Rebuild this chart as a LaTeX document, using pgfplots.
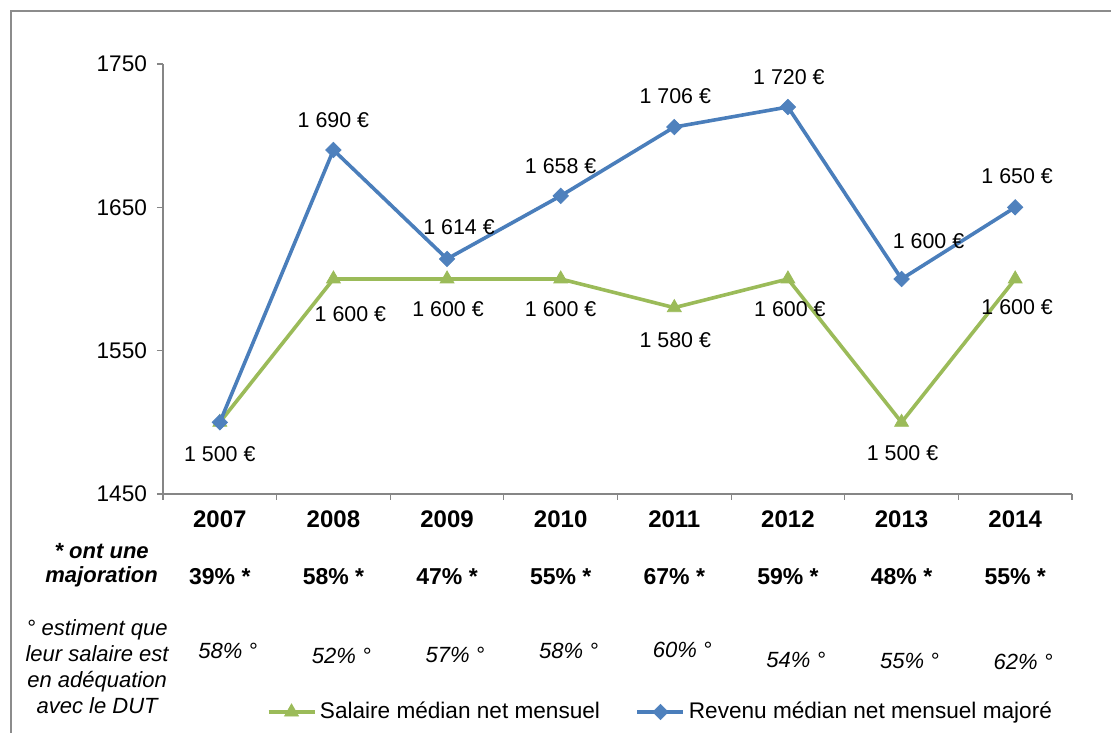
\documentclass[border=0pt]{standalone}
\usepackage{fontspec}
\setmainfont{Liberation Sans}
\usepackage{pgfplots}
\pgfplotsset{compat=1.18}
\definecolor{bleu}{HTML}{4A7EBB}
\definecolor{bleumk}{HTML}{4F81BD}
\definecolor{vert}{HTML}{9BBB59}
\definecolor{axe}{HTML}{868686}
\definecolor{cadre}{HTML}{8C8C8C}
\newcommand{\lab}{\fontsize{10.7}{12}\selectfont}
\tikzset{maj/.style={font=\bfseries\fontsize{11.5}{13}\selectfont, inner sep=0pt},
         adq/.style={font=\itshape\fontsize{11}{13}\selectfont, inner sep=0pt}}
\begin{document}
\begin{tikzpicture}
\begin{axis}[
  scale only axis, width=454.5pt, height=215pt,
  xmin=-0.5, xmax=7.5, ymin=1450, ymax=1750,
  axis lines=left, axis line style={-, draw=axe, line width=0.6pt},
  ytick={1450,1550,1650,1750},
  xtick={-0.5,0.5,...,7.5}, xticklabels={},
  tick align=outside, major tick length=3pt,
  tick style={draw=axe, line width=0.6pt},
  /pgf/number format/1000 sep={},
  /pgf/number format/assume math mode=true,
  yticklabel style={font=\fontsize{11.3}{13}\selectfont, xshift=-1.5pt},
  extra x ticks={0,1,2,3,4,5,6,7},
  extra x tick labels={2007,2008,2009,2010,2011,2012,2013,2014},
  extra x tick style={major tick length=0pt, tick label style={font=\bfseries\fontsize{12}{14}\selectfont, yshift=-5pt}},
  clip=false,
  legend columns=2,
  legend style={at={(0.548,-0.507)}, anchor=center, draw=none, fill=none,
    font=\fontsize{11.3}{13}\selectfont, inner sep=0pt,
    nodes={inner xsep=1.8pt},
    /tikz/every even column/.append style={column sep=16pt},
    cells={anchor=west}},
  legend image code/.code={\draw[mark repeat=2,mark phase=2] plot coordinates {(0pt,0pt) (11.5pt,0pt) (23pt,0pt)};},
]
% Salaire median net mensuel
\addplot[vert, line width=1.8pt, mark=triangle*, mark size=4pt, mark options={fill=vert, draw=vert, line width=0.4pt}]
  table[x=x, y=y] {
x y
0 1500
1 1600
2 1600
3 1600
4 1580
5 1600
6 1500
7 1600
};
\addlegendentry{Salaire médian net mensuel}
% Revenu median net mensuel majore
\addplot[bleu, line width=1.8pt, mark=square*, mark size=2.7pt, mark options={rotate=45, fill=bleumk, draw=bleumk, line width=0.4pt}]
  table[x=x, y=y] {
x y
0 1500
1 1690
2 1614
3 1658
4 1706
5 1720
6 1600
7 1650
};
\addlegendentry{Revenu médian net mensuel majoré}
% data labels, green
\addplot[draw=none, mark=none, forget plot,
  nodes near coords={\pgfmathprintnumber[1000 sep={\ },assume math mode=true]{\pgfplotspointmeta}\ €},
  visualization depends on={\thisrow{dx} \as \dx},
  visualization depends on={\thisrow{dy} \as \dy},
  every node near coord/.append style={anchor=center, text=black, font=\lab, inner sep=0pt, xshift=\dx pt, yshift=\dy pt}]
  table[x=x, y=y] {
x y dx dy
0 1500 0 -16
1 1600 8.5 -17.5
2 1600 0.5 -15
3 1600 0 -15
4 1580 0.5 -16
5 1600 1 -15
6 1500 0.5 -15.5
7 1600 1 -14
};
% data labels, blue
\addplot[draw=none, mark=none, forget plot,
  nodes near coords={\pgfmathprintnumber[1000 sep={\ },assume math mode=true]{\pgfplotspointmeta}\ €},
  visualization depends on={\thisrow{dx} \as \dx},
  visualization depends on={\thisrow{dy} \as \dy},
  every node near coord/.append style={anchor=center, text=black, font=\lab, inner sep=0pt, xshift=\dx pt, yshift=\dy pt}]
  table[x=x, y=y] {
x y dx dy
1 1690 0 15
2 1614 6 16
3 1658 0 15
4 1706 0.5 15.5
5 1720 0.5 15
6 1600 13.5 19
7 1650 1 15.5
};
% row labels
\node[align=center, font=\bfseries\itshape\fontsize{11}{12}\selectfont, inner sep=0pt] at ([yshift=-35.5pt]axis cs:-1.04,1450) {* ont une\\majoration};
\node[align=center, font=\itshape\fontsize{11}{13}\selectfont, inner sep=0pt] at ([yshift=-86.5pt]axis cs:-1.08,1450) {° estiment que\\leur salaire est\\en adéquation\\avec le DUT};
% majoration row
\node[maj] at ([yshift=-41.5pt]axis cs:0,1450) {39\% *};
\node[maj] at ([yshift=-41.5pt]axis cs:1,1450) {58\% *};
\node[maj] at ([yshift=-41.5pt]axis cs:2,1450) {47\% *};
\node[maj] at ([yshift=-41.5pt]axis cs:3,1450) {55\% *};
\node[maj] at ([yshift=-41.5pt]axis cs:4,1450) {67\% *};
\node[maj] at ([yshift=-41.5pt]axis cs:5,1450) {59\% *};
\node[maj] at ([yshift=-41.5pt]axis cs:6,1450) {48\% *};
\node[maj] at ([yshift=-41.5pt]axis cs:7,1450) {55\% *};
% adequation row
\node[adq] at ([xshift=4pt, yshift=-78.5pt]axis cs:0,1450) {58\% °};
\node[adq] at ([xshift=4pt, yshift=-81pt]axis cs:1,1450) {52\% °};
\node[adq] at ([xshift=4pt, yshift=-80.5pt]axis cs:2,1450) {57\% °};
\node[adq] at ([xshift=4pt, yshift=-78.5pt]axis cs:3,1450) {58\% °};
\node[adq] at ([xshift=4pt, yshift=-78pt]axis cs:4,1450) {60\% °};
\node[adq] at ([xshift=4pt, yshift=-83pt]axis cs:5,1450) {54\% °};
\node[adq] at ([xshift=4pt, yshift=-83.5pt]axis cs:6,1450) {55\% °};
\node[adq] at ([xshift=4pt, yshift=-84pt]axis cs:7,1450) {62\% °};
\end{axis}
\draw[cadre, line width=0.8pt] (-76pt,-125pt) -- (-76pt,241.5pt) -- (480pt,241.5pt);
\pgfresetboundingbox
\useasboundingbox (-81.5pt,-119pt) rectangle (474pt,247pt);
\end{tikzpicture}
\end{document}
